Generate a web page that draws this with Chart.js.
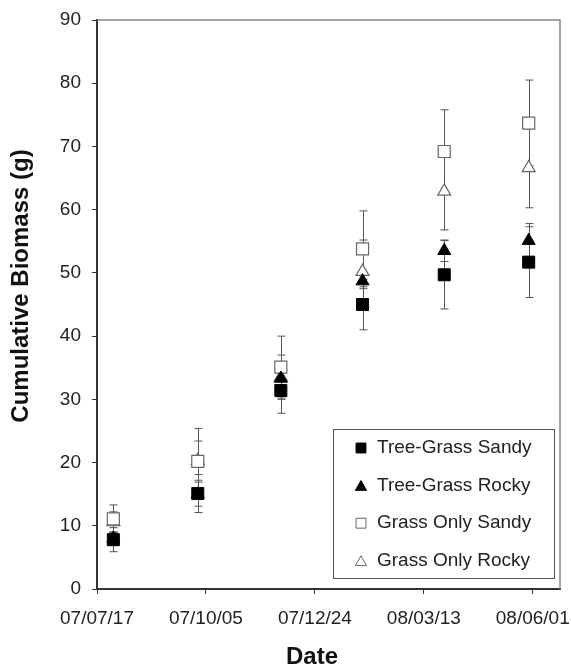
<!DOCTYPE html>
<html>
<head>
<meta charset="utf-8">
<script src="https://cdn.jsdelivr.net/npm/chart.js@4.4.1/dist/chart.umd.min.js"></script>
<style>
  body { margin: 0; background: #fff; }
  #wrap { width: 571px; height: 667px; }
</style>
</head>
<body>
<div id="wrap"><canvas id="biomassChart" width="571" height="667"></canvas></div>
<script>
// donnees (jours depuis le 07/07/17)
const sampleDays = [12, 74, 135, 195, 255, 317];

const seriesNames = ['Tree-Grass Sandy', 'Tree-Grass Rocky', 'Grass Only Sandy', 'Grass Only Rocky'];

const treeGrassSandy = [7.8, 15.1, 31.4, 45.0, 49.7, 51.7];
const treeGrassSandyErr = [1.9, 3.0, 3.6, 4.0, 5.4, 5.6];

const treeGrassRocky = [8.0, 15.0, 33.3, 48.7, 53.5, 55.1];
const treeGrassRockyErr = [1.0, 1.9, 2.0, 1.2, 1.7, 2.7];

const grassOnlySandy = [11.1, 20.2, 35.1, 53.8, 69.2, 73.7];
const grassOnlySandyErr = [2.2, 5.2, 4.9, 6.0, 6.6, 6.8];

const grassOnlyRocky = [10.6, 20.3, 33.5, 50.2, 62.9, 66.6];
const grassOnlyRockyErr = [1.6, 3.1, 3.5, 5.0, 6.1, 6.3];

const xTickDays = [0, 80, 160, 240, 320];
const xTickLabels = ['07/07/17', '07/10/05', '07/12/24', '08/03/13', '08/06/01'];

const FONT = "'Liberation Sans', Arial, sans-serif";

function toPoints(values) {
    return values.map((v, i) => ({ x: sampleDays[i], y: v }));
}

// barres d'erreur, dessinees avant les marqueurs
const errorBars = {
    id: 'errorBars',
    beforeDatasetsDraw(chart) {
        const ctx = chart.ctx;
        const xs = chart.scales.x, ys = chart.scales.y;
        ctx.save();
        ctx.strokeStyle = '#555';
        ctx.lineWidth = 1;
        chart.data.datasets.forEach(ds => {
            ds.data.forEach((p, i) => {
                const e = ds.errors[i];
                const x = Math.round(xs.getPixelForValue(p.x)) + 0.5;
                const yt = ys.getPixelForValue(p.y + e);
                const yb = ys.getPixelForValue(p.y - e);
                ctx.beginPath();
                ctx.moveTo(x, yt); ctx.lineTo(x, yb);
                ctx.moveTo(x - 4, yt); ctx.lineTo(x + 4, yt);
                ctx.moveTo(x - 4, yb); ctx.lineTo(x + 4, yb);
                ctx.stroke();
            });
        });
        ctx.restore();
    }
};

// cadre, titres d'axes et legende dans le graphique
const decorations = {
    id: 'decorations',
    afterDraw(chart) {
        const ctx = chart.ctx;
        const a = chart.chartArea;
        ctx.save();

        // cadre haut / droite
        ctx.strokeStyle = '#888';
        ctx.lineWidth = 1.5;
        ctx.beginPath();
        ctx.moveTo(a.left, a.top);
        ctx.lineTo(a.right, a.top);
        ctx.lineTo(a.right, a.bottom);
        ctx.stroke();

        // titres
        ctx.fillStyle = '#111';
        ctx.font = 'bold 24px ' + FONT;
        ctx.textAlign = 'center';
        ctx.textBaseline = 'middle';
        ctx.fillText('Date', 312, 657);
        ctx.translate(21, 286);
        ctx.rotate(-Math.PI / 2);
        ctx.fillText('Cumulative Biomass (g)', 0, 0);
        ctx.setTransform(1, 0, 0, 1, 0, 0);

        // legende
        const box = { left: 333.5, top: 429.5, right: 554.5, bottom: 578.5 };
        ctx.fillStyle = '#fff';
        ctx.fillRect(box.left, box.top, box.right - box.left, box.bottom - box.top);
        ctx.strokeStyle = '#555';
        ctx.lineWidth = 1;
        ctx.strokeRect(box.left, box.top, box.right - box.left, box.bottom - box.top);

        ctx.font = '19px ' + FONT;
        ctx.textAlign = 'left';
        ctx.textBaseline = 'middle';
        chart.data.datasets.forEach((ds, i) => {
            const y = 448 + i * 37.6;
            ctx.fillStyle = ds.pointBackgroundColor;
            ctx.strokeStyle = ds.pointBorderColor;
            ctx.lineWidth = 1;
            Chart.helpers.drawPoint(ctx, {
                pointStyle: ds.pointStyle,
                radius: ds.pointStyle === 'rect' ? 7 : 6.5,
                rotation: 0,
                borderWidth: 1
            }, 361, ds.pointStyle === 'rect' ? y : y + 1.5);
            ctx.fillStyle = '#222';
            ctx.fillText(ds.label, 377, y);
        });

        ctx.restore();
    }
};

function initChart() {
    const ctx = document.getElementById('biomassChart').getContext('2d');

    new Chart(ctx, {
        type: 'scatter',
        data: {
            datasets: [{
                label: seriesNames[0],
                data: toPoints(treeGrassSandy),
                errors: treeGrassSandyErr,
                pointStyle: 'rect',
                pointRadius: 8.5,
                pointBackgroundColor: '#000',
                pointBorderColor: '#000',
                pointBorderWidth: 1
            }, {
                label: seriesNames[1],
                data: toPoints(treeGrassRocky),
                errors: treeGrassRockyErr,
                pointStyle: 'triangle',
                pointRadius: 7.5,
                pointBackgroundColor: '#000',
                pointBorderColor: '#000',
                pointBorderWidth: 1
            }, {
                label: seriesNames[2],
                data: toPoints(grassOnlySandy),
                errors: grassOnlySandyErr,
                pointStyle: 'rect',
                pointRadius: 8.5,
                pointBackgroundColor: '#fff',
                pointBorderColor: '#666',
                pointBorderWidth: 1.2
            }, {
                label: seriesNames[3],
                data: toPoints(grassOnlyRocky),
                errors: grassOnlyRockyErr,
                pointStyle: 'triangle',
                pointRadius: 7.5,
                pointBackgroundColor: '#fff',
                pointBorderColor: '#666',
                pointBorderWidth: 1.2
            }]
        },
        options: {
            responsive: false,
            animation: false,
            layout: { padding: { left: 0, top: 20, right: 11, bottom: 0 } },
            plugins: {
                legend: { display: false },
                tooltip: { enabled: false }
            },
            scales: {
                x: {
                    type: 'linear',
                    min: 0,
                    max: 340,
                    afterBuildTicks: scale => { scale.ticks = xTickDays.map(v => ({ value: v })); },
                    afterFit: scale => {
                        scale.height = 78;
                        scale.paddingLeft = 0;
                        scale.paddingRight = 0;
                    },
                    ticks: {
                        callback: (value, index) => xTickLabels[index],
                        font: { family: FONT, size: 19 },
                        color: '#222',
                        padding: 13,
                        maxRotation: 0,
                        autoSkip: false
                    },
                    grid: { drawOnChartArea: false, drawTicks: true, tickLength: 5, color: '#333' },
                    border: { display: true, color: '#333', width: 2 }
                },
                y: {
                    min: 0,
                    max: 90,
                    afterFit: scale => {
                        scale.width = 97;
                        scale.paddingTop = 0;
                        scale.paddingBottom = 0;
                    },
                    ticks: {
                        stepSize: 10,
                        font: { family: FONT, size: 19 },
                        color: '#222',
                        padding: 11
                    },
                    grid: { drawOnChartArea: false, drawTicks: true, tickLength: 5, color: '#333' },
                    border: { display: true, color: '#333', width: 2 }
                }
            }
        },
        plugins: [errorBars, decorations]
    });
}

window.onload = initChart;
</script>
</body>
</html>
